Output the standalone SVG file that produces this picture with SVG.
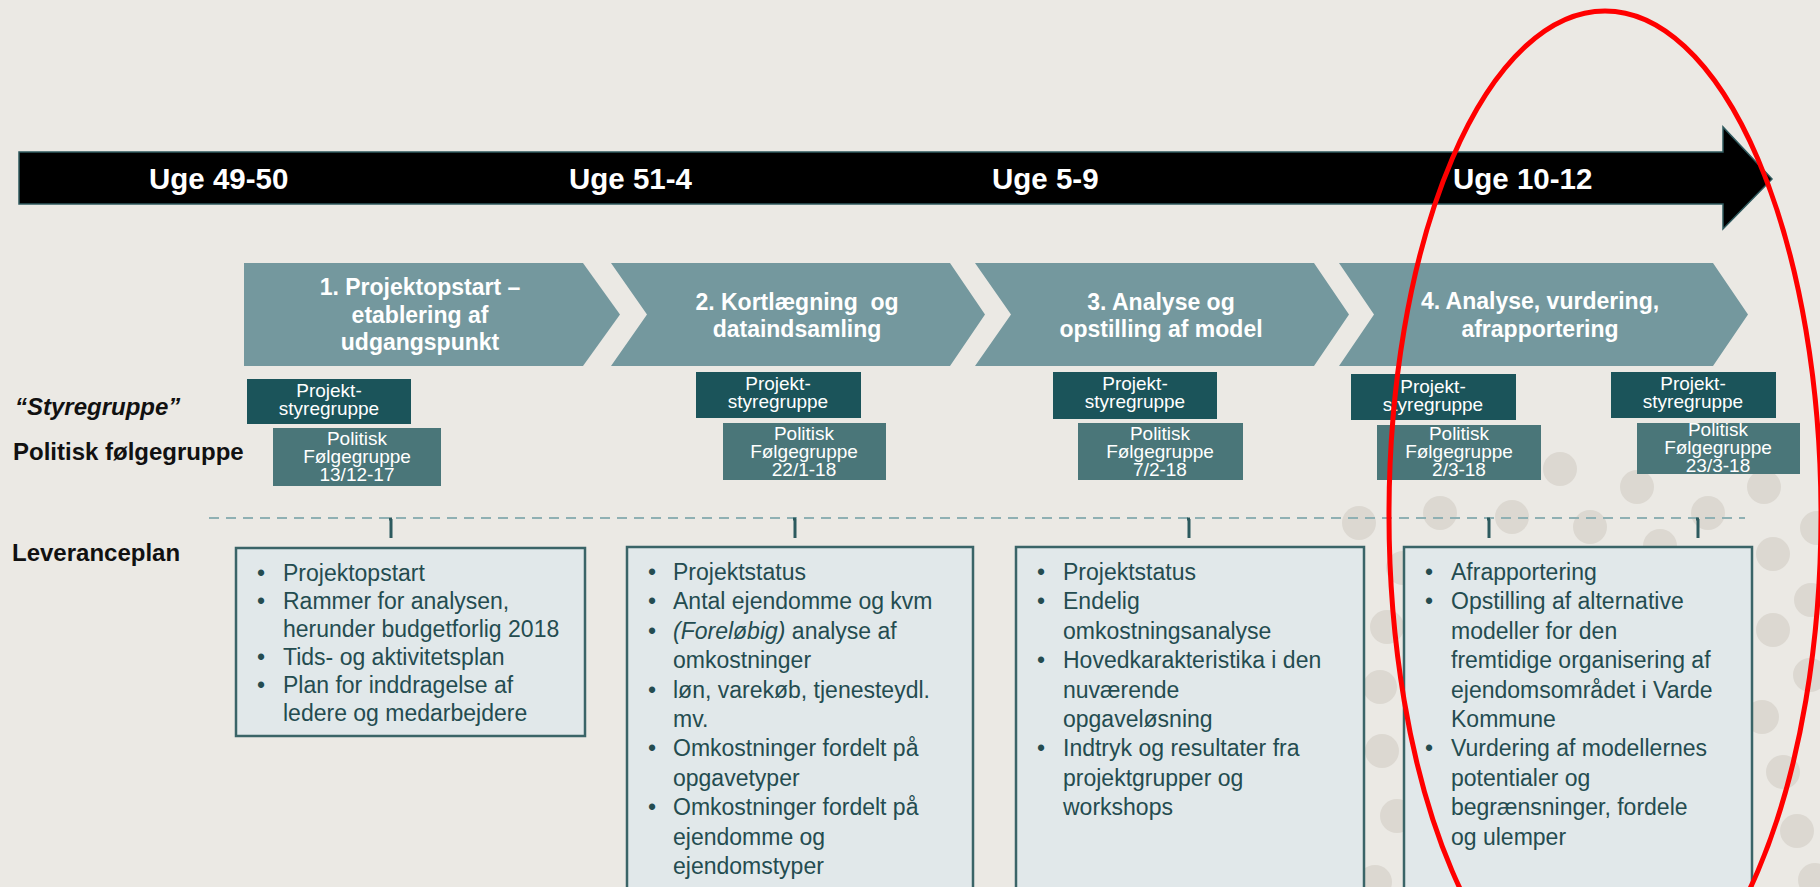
<svg xmlns="http://www.w3.org/2000/svg" width="1820" height="887" viewBox="0 0 1820 887">
<style>
.bg{fill:#ebe9e4}
.dot{fill:#dcd8d1}
.chev{fill:#74989e}
.ct{font-family:"Liberation Sans",Arial,sans-serif;font-weight:bold;font-size:23px;fill:#ffffff;text-anchor:middle}
.uge{font-family:"Liberation Sans",Arial,sans-serif;font-weight:bold;font-size:29.5px;fill:#ffffff}
.sty{fill:#1b545a}
.pol{fill:#4a7679}
.bt{font-family:"Liberation Sans",Arial,sans-serif;font-size:19px;fill:#ffffff;text-anchor:middle}
.lab{font-family:"Liberation Sans",Arial,sans-serif;font-weight:bold;font-size:24px;fill:#111111}
.lev{fill:#e1e8ea;stroke:#3a6467;stroke-width:2.5}
.lt{font-family:"Liberation Sans",Arial,sans-serif;font-size:23px;fill:#244c50}
.tick{stroke:#2c5a5e;stroke-width:3;fill:none}
</style>
<rect class="bg" x="0" y="0" width="1820" height="887"/>
<g id="dots">
<circle class="dot" cx="1560" cy="469" r="17"/>
<circle class="dot" cx="1637" cy="487" r="17"/>
<circle class="dot" cx="1764" cy="487" r="17"/>
<circle class="dot" cx="1440" cy="513" r="17"/>
<circle class="dot" cx="1512" cy="517" r="17"/>
<circle class="dot" cx="1590" cy="527" r="17"/>
<circle class="dot" cx="1708" cy="513" r="17"/>
<circle class="dot" cx="1359" cy="523" r="17"/>
<circle class="dot" cx="1660" cy="546" r="17"/>
<circle class="dot" cx="1773" cy="554" r="17"/>
<circle class="dot" cx="1817" cy="528" r="17"/>
<circle class="dot" cx="1811" cy="600" r="17"/>
<circle class="dot" cx="1773" cy="630" r="17"/>
<circle class="dot" cx="1387" cy="627" r="17"/>
<circle class="dot" cx="1403" cy="568" r="17"/>
<circle class="dot" cx="1380" cy="687" r="17"/>
<circle class="dot" cx="1810" cy="675" r="17"/>
<circle class="dot" cx="1762" cy="717" r="17"/>
<circle class="dot" cx="1382" cy="751" r="17"/>
<circle class="dot" cx="1783" cy="772" r="17"/>
<circle class="dot" cx="1397" cy="816" r="17"/>
<circle class="dot" cx="1797" cy="831" r="17"/>
<circle class="dot" cx="1375" cy="882" r="17"/>
<circle class="dot" cx="1815" cy="880" r="17"/>
</g>
<g id="timeline">
<polygon points="19,152 1723,152 1723,127 1772,179 1723,229 1723,204 19,204" fill="#000000" stroke="#2f5a5e" stroke-width="1.5"/>
<text class="uge" x="149" y="189">Uge 49-50</text>
<text class="uge" x="569" y="189">Uge 51-4</text>
<text class="uge" x="992" y="189">Uge 5-9</text>
<text class="uge" x="1453" y="189">Uge 10-12</text>
</g>
<g id="phase1">
<polygon class="chev" points="244,263 583,263 620,314.5 583,366 244,366"/>
<text class="ct" x="420" y="295">1. Projektopstart –</text>
<text class="ct" x="420" y="323">etablering af</text>
<text class="ct" x="420" y="350">udgangspunkt</text>
</g>
<g id="phase2">
<polygon class="chev" points="611,263 950,263 985,314.5 950,366 611,366 647,314.5"/>
<text class="ct" x="797" y="310" style="white-space:pre">2. Kortlægning  og</text>
<text class="ct" x="797" y="337">dataindsamling</text>
</g>
<g id="phase3">
<polygon class="chev" points="975,263 1314,263 1349,314.5 1314,366 975,366 1011,314.5"/>
<text class="ct" x="1161" y="310">3. Analyse og</text>
<text class="ct" x="1161" y="337">opstilling af model</text>
</g>
<g id="phase4">
<polygon class="chev" points="1339,263 1713,263 1748,314.5 1713,366 1339,366 1374,314.5"/>
<text class="ct" x="1540" y="309">4. Analyse, vurdering,</text>
<text class="ct" x="1540" y="337">afrapportering</text>
</g>
<g id="labels">
<text class="lab" x="15" y="415" font-style="italic" font-size="22px">“Styregruppe”</text>
<text class="lab" x="13" y="460">Politisk følgegruppe</text>
<text class="lab" x="12" y="561">Leveranceplan</text>
</g>
<g id="meeting1">
<rect class="sty" x="247" y="379" width="164" height="45"/>
<text class="bt" x="329" y="397">Projekt-</text>
<text class="bt" x="329" y="415">styregruppe</text>
<rect class="pol" x="273" y="428" width="168" height="58"/>
<text class="bt" x="357" y="445">Politisk</text>
<text class="bt" x="357" y="463">Følgegruppe</text>
<text class="bt" x="357" y="481">13/12-17</text>
</g>
<g id="meeting2">
<rect class="sty" x="696" y="372" width="165" height="46"/>
<text class="bt" x="778" y="390">Projekt-</text>
<text class="bt" x="778" y="408">styregruppe</text>
<rect class="pol" x="723" y="423" width="163" height="57"/>
<text class="bt" x="804" y="440">Politisk</text>
<text class="bt" x="804" y="458">Følgegruppe</text>
<text class="bt" x="804" y="476">22/1-18</text>
</g>
<g id="meeting3">
<rect class="sty" x="1053" y="372" width="164" height="47"/>
<text class="bt" x="1135" y="390">Projekt-</text>
<text class="bt" x="1135" y="408">styregruppe</text>
<rect class="pol" x="1078" y="423" width="165" height="57"/>
<text class="bt" x="1160" y="440">Politisk</text>
<text class="bt" x="1160" y="458">Følgegruppe</text>
<text class="bt" x="1160" y="476">7/2-18</text>
</g>
<g id="meeting4a">
<rect class="sty" x="1351" y="374" width="165" height="46"/>
<text class="bt" x="1433" y="393">Projekt-</text>
<text class="bt" x="1433" y="411">styregruppe</text>
<rect class="pol" x="1377" y="425" width="164" height="55"/>
<text class="bt" x="1459" y="440">Politisk</text>
<text class="bt" x="1459" y="458">Følgegruppe</text>
<text class="bt" x="1459" y="476">2/3-18</text>
</g>
<g id="meeting4b">
<rect class="sty" x="1611" y="372" width="165" height="46"/>
<text class="bt" x="1693" y="390">Projekt-</text>
<text class="bt" x="1693" y="408">styregruppe</text>
<rect class="pol" x="1637" y="423" width="163" height="51"/>
<text class="bt" x="1718" y="436">Politisk</text>
<text class="bt" x="1718" y="454">Følgegruppe</text>
<text class="bt" x="1718" y="472">23/3-18</text>
</g>
<g id="connectors">
<line x1="209" y1="518" x2="1745" y2="518" stroke="#8fb0b3" stroke-width="2" stroke-dasharray="10 7"/>
<path class="tick" d="M389,519 H392 M391,519 V538"/>
<path class="tick" d="M793,519 H796 M795,519 V538"/>
<path class="tick" d="M1187,519 H1190 M1189,519 V538"/>
<path class="tick" d="M1487,519 H1490 M1489,519 V538"/>
<path class="tick" d="M1696,519 H1699 M1698,519 V538"/>
</g>
<g id="deliverable1">
<rect class="lev" x="236" y="548" width="349" height="188"/>
<text class="lt" x="257" y="581">•</text>
<text class="lt" x="283" y="581">Projektopstart</text>
<text class="lt" x="257" y="609">•</text>
<text class="lt" x="283" y="609">Rammer for analysen,</text>
<text class="lt" x="283" y="637">herunder budgetforlig 2018</text>
<text class="lt" x="257" y="665">•</text>
<text class="lt" x="283" y="665">Tids- og aktivitetsplan</text>
<text class="lt" x="257" y="693">•</text>
<text class="lt" x="283" y="693">Plan for inddragelse af</text>
<text class="lt" x="283" y="721">ledere og medarbejdere</text>
</g>
<g id="deliverable2">
<rect class="lev" x="627" y="547" width="346" height="360"/>
<text class="lt" x="648" y="580">•</text>
<text class="lt" x="673" y="580">Projektstatus</text>
<text class="lt" x="648" y="609.4">•</text>
<text class="lt" x="673" y="609.4">Antal ejendomme og kvm</text>
<text class="lt" x="648" y="638.8">•</text>
<text class="lt" x="673" y="638.8"><tspan font-style="italic">(Foreløbig)</tspan> analyse af</text>
<text class="lt" x="673" y="668.2">omkostninger</text>
<text class="lt" x="648" y="697.6">•</text>
<text class="lt" x="673" y="697.6">løn, varekøb, tjenesteydl.</text>
<text class="lt" x="673" y="727">mv.</text>
<text class="lt" x="648" y="756.4">•</text>
<text class="lt" x="673" y="756.4">Omkostninger fordelt på</text>
<text class="lt" x="673" y="785.8">opgavetyper</text>
<text class="lt" x="648" y="815.2">•</text>
<text class="lt" x="673" y="815.2">Omkostninger fordelt på</text>
<text class="lt" x="673" y="844.6">ejendomme og</text>
<text class="lt" x="673" y="874">ejendomstyper</text>
</g>
<g id="deliverable3">
<rect class="lev" x="1016" y="547" width="348" height="360"/>
<text class="lt" x="1037" y="580">•</text>
<text class="lt" x="1063" y="580">Projektstatus</text>
<text class="lt" x="1037" y="609.4">•</text>
<text class="lt" x="1063" y="609.4">Endelig</text>
<text class="lt" x="1063" y="638.8">omkostningsanalyse</text>
<text class="lt" x="1037" y="668.2">•</text>
<text class="lt" x="1063" y="668.2">Hovedkarakteristika i den</text>
<text class="lt" x="1063" y="697.6">nuværende</text>
<text class="lt" x="1063" y="727">opgaveløsning</text>
<text class="lt" x="1037" y="756.4">•</text>
<text class="lt" x="1063" y="756.4">Indtryk og resultater fra</text>
<text class="lt" x="1063" y="785.8">projektgrupper og</text>
<text class="lt" x="1063" y="815.2">workshops</text>
</g>
<g id="deliverable4">
<rect class="lev" x="1404" y="547" width="348" height="360"/>
<text class="lt" x="1425" y="580">•</text>
<text class="lt" x="1451" y="580">Afrapportering</text>
<text class="lt" x="1425" y="609.4">•</text>
<text class="lt" x="1451" y="609.4">Opstilling af alternative</text>
<text class="lt" x="1451" y="638.8">modeller for den</text>
<text class="lt" x="1451" y="668.2">fremtidige organisering af</text>
<text class="lt" x="1451" y="697.6">ejendomsområdet i Varde</text>
<text class="lt" x="1451" y="727">Kommune</text>
<text class="lt" x="1425" y="756.4">•</text>
<text class="lt" x="1451" y="756.4">Vurdering af modellernes</text>
<text class="lt" x="1451" y="785.8">potentialer og</text>
<text class="lt" x="1451" y="815.2">begrænsninger, fordele</text>
<text class="lt" x="1451" y="844.6">og ulemper</text>
</g>
<g id="highlight">
<ellipse cx="1605" cy="515" rx="216" ry="504" fill="none" stroke="#ff0000" stroke-width="5"/>
</g>
</svg>
